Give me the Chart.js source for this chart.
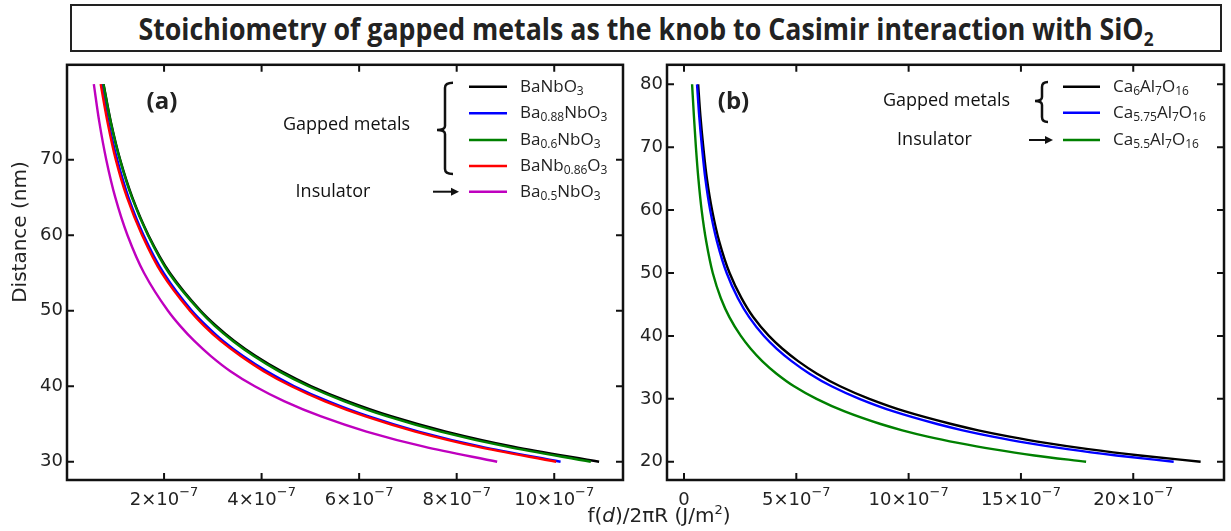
<!DOCTYPE html>
<html>
<head>
<meta charset="utf-8">
<script src="https://cdn.jsdelivr.net/npm/chart.js@4.4.1/dist/chart.umd.min.js"></script>
<style>
  body { margin:0; width:1231px; height:531px; background:#fff; position:relative; overflow:hidden; font-family:"DejaVu Sans"; color:#222; }
  #title { position:absolute; left:70px; top:4px; width:1148px; height:44px; border:2px solid #222; overflow:hidden; }
  #title span { position:absolute; left:50%; top:0; white-space:nowrap; font:bold 31px "Open Sans"; line-height:44px; transform-origin:center center; }
  #title sub { font-size:20px; vertical-align:-6px; line-height:0; }
  canvas { position:absolute; top:50px; }
  #ylab { position:absolute; left:-81px; top:220px; width:200px; height:24px; line-height:24px; text-align:center; font-size:20px; transform:rotate(-90deg); }
  #xlab { position:absolute; left:459px; top:503px; width:400px; text-align:center; font-size:20px; }
  #xlab sup { font-size:13px; vertical-align:8px; line-height:0; }
</style>
</head>
<body>
<div id="title"><span id="titleText">Stoichiometry of gapped metals as the knob to Casimir interaction with SiO<sub>2</sub></span></div>
<canvas id="chartA" width="636" height="481" style="left:0px"></canvas>
<canvas id="chartB" width="595" height="481" style="left:636px"></canvas>
<div id="ylab">Distance (nm)</div>
<div id="xlab">f(<i>d</i>)/2πR (J/m<sup>2</sup>)</div>
<script>
// values are f(d)/2piR in units of 1e-7 J/m^2, distances in nm

// panel (a)
const distA = [30, 32, 34, 36, 38, 40, 42, 44, 46, 48, 50, 55, 60, 65, 70, 75, 80];
const baNbO3    = [10.92, 9.16, 7.78, 6.67, 5.77, 5.02, 4.40, 3.88, 3.44, 3.07, 2.75, 2.12, 1.68, 1.35, 1.10, 0.91, 0.76];
const ba088NbO3 = [10.13, 8.50, 7.22, 6.20, 5.37, 4.67, 4.10, 3.62, 3.21, 2.87, 2.57, 1.99, 1.58, 1.27, 1.04, 0.86, 0.72];
const ba06NbO3  = [10.75, 9.03, 7.67, 6.58, 5.70, 4.96, 4.35, 3.84, 3.41, 3.04, 2.73, 2.10, 1.67, 1.34, 1.095, 0.905, 0.757];
const baNb086O3 = [10.04, 8.42, 7.15, 6.13, 5.30, 4.61, 4.04, 3.57, 3.16, 2.82, 2.53, 1.95, 1.55, 1.24, 1.01, 0.84, 0.70];
const ba05NbO3  = [8.83, 7.33, 6.15, 5.22, 4.47, 3.86, 3.36, 2.96, 2.62, 2.33, 2.08, 1.59, 1.25, 1.00, 0.815, 0.672, 0.56];
const namesA  = ['BaNbO_{3}', 'Ba_{0.88}NbO_{3}', 'Ba_{0.6}NbO_{3}', 'BaNb_{0.86}O_{3}', 'Ba_{0.5}NbO_{3}'];
const colorsA = ['#000000', '#0000ff', '#008000', '#ff0000', '#bf00bf'];
const xTicksA = [2, 4, 6, 8, 10];
const yTicksA = [30, 40, 50, 60, 70];

// panel (b)
const distB = [20, 21, 22, 23, 24, 25, 26, 28, 30, 32, 34, 36, 38, 40, 43, 46, 50, 55, 60, 65, 70, 75, 80];
const ca6   = [23.0, 20.3, 18.0, 16.1, 14.5, 13.1, 11.9, 9.85, 8.25, 6.95, 5.92, 5.08, 4.37, 3.78, 3.08, 2.56, 2.03, 1.57, 1.25, 1.02, 0.86, 0.73, 0.63];
const ca575 = [21.8, 19.25, 17.07, 15.26, 13.74, 12.41, 11.27, 9.33, 7.81, 6.57, 5.59, 4.79, 4.12, 3.56, 2.90, 2.40, 1.90, 1.47, 1.165, 0.95, 0.80, 0.675, 0.58];
const ca55  = [17.9, 15.6, 13.75, 12.2, 10.85, 9.72, 8.75, 7.15, 5.90, 4.90, 4.12, 3.48, 2.96, 2.53, 2.02, 1.64, 1.28, 0.99, 0.785, 0.64, 0.53, 0.44, 0.36];
const namesB  = ['Ca_{6}Al_{7}O_{16}', 'Ca_{5.75}Al_{7}O_{16}', 'Ca_{5.5}Al_{7}O_{16}'];
const colorsB = ['#000000', '#0000ff', '#008000'];
const xTicksB = [0, 5, 10, 15, 20];
const yTicksB = [20, 30, 40, 50, 60, 70, 80];

// squeeze the title into the box
const tt = document.getElementById('titleText');
tt.style.transform = 'translateX(-50%) scaleX(' + (1015 / tt.offsetWidth) + ')';

function richParts(s) {
  const out = [];
  s.split(/(_\{[^}]*\})/).forEach(p => {
    if (!p) return;
    if (p.startsWith('_{')) out.push([p.slice(2, -1), true]);
    else out.push([p, false]);
  });
  return out;
}

function drawRich(ctx, s, x, y, size) {
  let cx = x;
  ctx.textAlign = 'left';
  ctx.textBaseline = 'middle';
  richParts(s).forEach(([t, sub]) => {
    ctx.font = (sub ? Math.round(size * 0.7) : size) + 'px "Open Sans"';
    ctx.fillText(t, cx, y + (sub ? size * 0.28 : 0));
    cx += ctx.measureText(t).width;
  });
}

// tick label like 5×10^-7 with a real raised exponent
function drawPow(ctx, v, x, y) {
  const base = v === 0 ? '0' : v + '×10';
  const exp = v === 0 ? '' : '−7';
  ctx.font = '18px "DejaVu Sans"';
  const w1 = ctx.measureText(base).width;
  ctx.font = '13px "DejaVu Sans"';
  const w2 = exp ? ctx.measureText(exp).width : 0;
  const x0 = x - (w1 + w2) / 2;
  ctx.textAlign = 'left';
  ctx.textBaseline = 'middle';
  ctx.font = '18px "DejaVu Sans"';
  ctx.fillText(base, x0, y);
  if (exp) {
    ctx.font = '13px "DejaVu Sans"';
    ctx.fillText(exp, x0 + w1, y - 7);
  }
}

function drawBrace(ctx, x, top, bottom, hookX, nubX, nubY) {
  ctx.beginPath();
  ctx.moveTo(hookX, top);
  ctx.quadraticCurveTo(x, top, x, top + 5);
  ctx.lineTo(x, nubY - 4);
  ctx.quadraticCurveTo(x, nubY, nubX, nubY);
  ctx.quadraticCurveTo(x, nubY, x, nubY + 4);
  ctx.lineTo(x, bottom - 5);
  ctx.quadraticCurveTo(x, bottom, hookX, bottom);
  ctx.stroke();
}

function drawArrow(ctx, x0, x1, y) {
  ctx.beginPath();
  ctx.moveTo(x0, y); ctx.lineTo(x1 - 6, y);
  ctx.stroke();
  ctx.beginPath();
  ctx.moveTo(x1, y); ctx.lineTo(x1 - 8, y - 4); ctx.lineTo(x1 - 8, y + 4);
  ctx.closePath(); ctx.fill();
}

const framePlugin = {
  id: 'frame',
  afterDatasetsDraw(chart) {
    const {ctx, chartArea: a, scales: {x, y}} = chart;
    ctx.save();
    ctx.strokeStyle = '#111';
    ctx.lineWidth = 2;
    ctx.beginPath();
    x.ticks.forEach(t => {
      const px = x.getPixelForValue(t.value);
      ctx.moveTo(px, a.bottom); ctx.lineTo(px, a.bottom - 7);
      ctx.moveTo(px, a.top); ctx.lineTo(px, a.top + 7);
    });
    y.ticks.forEach(t => {
      const py = y.getPixelForValue(t.value);
      ctx.moveTo(a.left, py); ctx.lineTo(a.left + 7, py);
      ctx.moveTo(a.right, py); ctx.lineTo(a.right - 7, py);
    });
    ctx.stroke();
    ctx.lineWidth = 2.5;
    ctx.strokeRect(a.left, a.top, a.right - a.left, a.bottom - a.top);
    ctx.fillStyle = '#222';
    x.ticks.forEach(t => drawPow(ctx, t.value, x.getPixelForValue(t.value), a.bottom + 20));
    ctx.restore();
  }
};

function notesPlugin(n) {
  return {
    id: 'notes',
    afterDraw(chart) {
      const ctx = chart.ctx;
      ctx.save();
      ctx.fillStyle = '#222';
      ctx.strokeStyle = '#111';
      ctx.font = 'bold 24px "Open Sans"';
      ctx.textAlign = 'center';
      ctx.textBaseline = 'middle';
      ctx.fillText(n.panel, n.panelPos[0], n.panelPos[1]);
      n.names.forEach((name, i) => {
        const y = n.rows[i];
        ctx.strokeStyle = n.colors[i];
        ctx.lineWidth = 2.5;
        ctx.beginPath();
        ctx.moveTo(n.lineX[0], y); ctx.lineTo(n.lineX[1], y);
        ctx.stroke();
        drawRich(ctx, name, n.textX, y, 17);
      });
      ctx.strokeStyle = '#111';
      ctx.fillStyle = '#111';
      ctx.font = '18px "Open Sans"';
      ctx.textAlign = 'center';
      ctx.textBaseline = 'middle';
      ctx.fillText('Gapped metals', n.gapped[0], n.gapped[1]);
      ctx.fillText('Insulator', n.insul[0], n.insul[1]);
      ctx.lineWidth = 2.5;
      drawBrace(ctx, ...n.brace);
      ctx.lineWidth = 2;
      drawArrow(ctx, ...n.arrow);
      ctx.restore();
    }
  };
}

function makePanel(id, dist, series, names, colors, xr, yr, xTicks, yTicks, yw, padRight, notes) {
  const datasets = series.map((vals, i) => ({
    label: names[i],
    data: vals.map((v, j) => ({x: v, y: dist[j]})),
    borderColor: colors[i],
    borderWidth: 2.4,
    pointRadius: 0,
    cubicInterpolationMode: 'monotone',
    fill: false,
    order: -i
  }));
  return new Chart(document.getElementById(id), {
    type: 'line',
    data: {datasets},
    options: {
      indexAxis: 'y',
      responsive: false,
      animation: false,
      devicePixelRatio: 1,
      events: [],
      layout: {padding: {top: 13, right: padRight, left: 0, bottom: 0}},
      plugins: {legend: {display: false}, tooltip: {enabled: false}},
      scales: {
        x: {
          type: 'linear', min: xr[0], max: xr[1],
          grid: {display: false, drawTicks: false}, border: {display: false},
          afterBuildTicks: s => { s.ticks = xTicks.map(v => ({value: v})); },
          afterFit: s => { s.height = 51; },
          ticks: {display: false}
        },
        y: {
          type: 'linear', min: yr[0], max: yr[1],
          grid: {display: false, drawTicks: false}, border: {display: false},
          afterBuildTicks: s => { s.ticks = yTicks.map(v => ({value: v})); },
          afterFit: s => { s.width = yw; },
          ticks: {font: {family: 'DejaVu Sans', size: 18}, color: '#222', padding: 4, autoSkip: false}
        }
      }
    },
    plugins: [framePlugin, notesPlugin(notes)]
  });
}

makePanel('chartA', distA, [baNbO3, ba088NbO3, ba06NbO3, baNb086O3, ba05NbO3], namesA, colorsA,
  [0.01, 11.41], [27.59, 82.56], xTicksA, yTicksA, 67, 13, {
    panel: '(a)', panelPos: [162, 52],
    names: namesA, colors: colorsA,
    rows: [36.7, 63.3, 90, 116, 141.7], lineX: [469, 507], textX: 520,
    gapped: [346.5, 75], insul: [333, 142],
    brace: [445, 32.7, 124, 453, 437, 80],
    arrow: [433, 459, 141.7]
  });

makePanel('chartB', distB, [ca6, ca575, ca55], namesB, colorsB,
  [-0.757, 24.04], [17.1, 83.1], xTicksB, yTicksB, 31, 7, {
    panel: '(b)', panelPos: [97.5, 52],
    names: namesB, colors: colorsB,
    rows: [36.7, 62.7, 90], lineX: [427, 464], textX: 477,
    gapped: [310.5, 51], insul: [298.5, 90],
    brace: [406, 32, 72, 412, 399, 51],
    arrow: [393, 417, 90]
  });
</script>
</body>
</html>
